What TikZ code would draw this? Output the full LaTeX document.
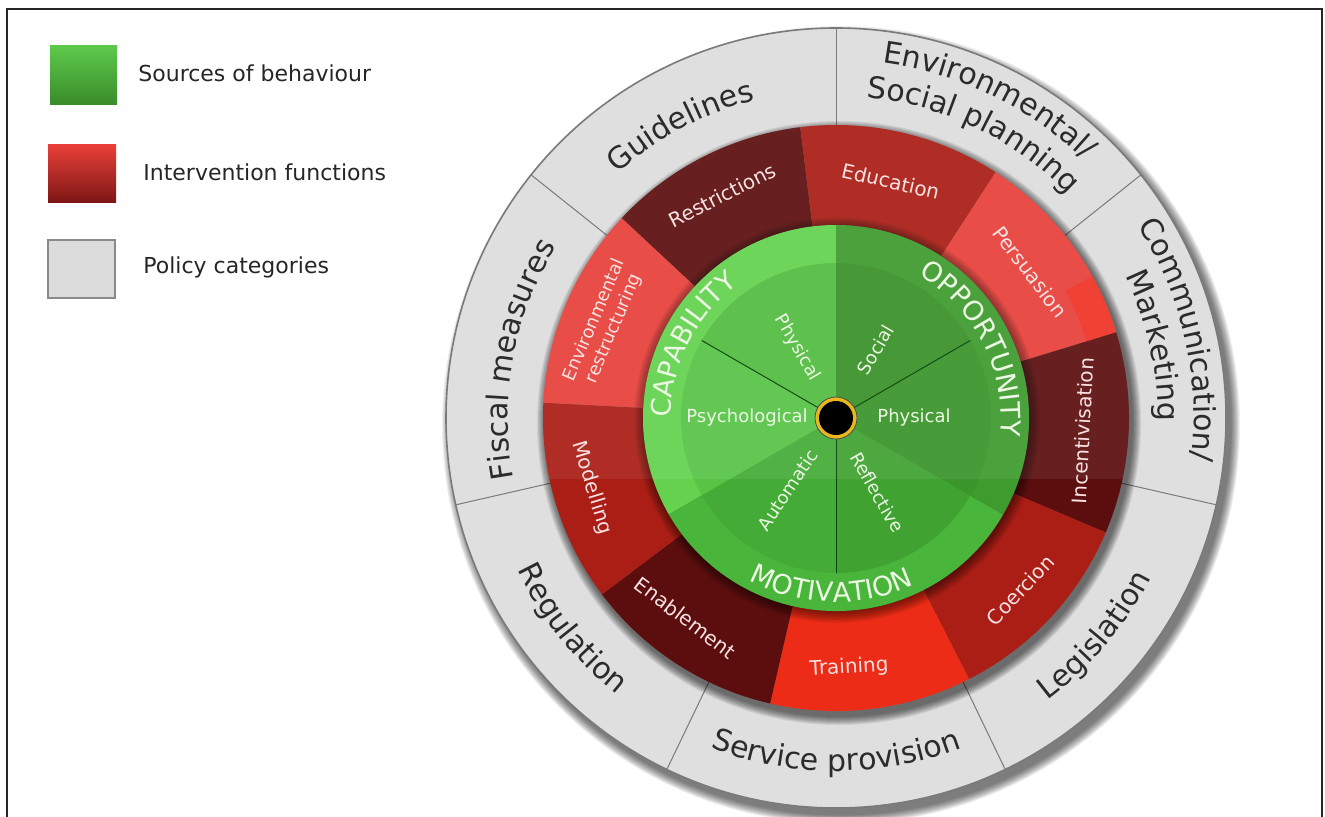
\documentclass[tikz,border=0pt]{standalone}
\usepackage{fontspec}
\setmainfont{DejaVu Sans}
\usetikzlibrary{decorations.text}
\definecolor{poltext}{HTML}{2B2B2B}
\definecolor{polfill}{HTML}{DFDFDF}
\definecolor{polline}{HTML}{7A7A7A}
\definecolor{redtext}{HTML}{F8E2E2}
\definecolor{greentext}{HTML}{ECF7E4}
\definecolor{rdark}{HTML}{5C0E0E}
\definecolor{rmid}{HTML}{AA1E16}
\definecolor{rbright}{HTML}{E8403A}
\definecolor{rstrip}{HTML}{EE3426}
\definecolor{rtrain}{HTML}{EC2C16}
\definecolor{capring}{HTML}{64D24F}
\definecolor{oppring}{HTML}{3E9C2E}
\definecolor{motring}{HTML}{49B63B}
\definecolor{capphys}{HTML}{52BC40}
\definecolor{cappsy}{HTML}{58C446}
\definecolor{motauto}{HTML}{44AC36}
\definecolor{motrefl}{HTML}{3FA231}
\definecolor{oppphys}{HTML}{3A952A}
\definecolor{oppsoc}{HTML}{3A9229}
\definecolor{gold}{HTML}{E8B81E}
\definecolor{leggtop}{HTML}{5DC94B}
\definecolor{leggbot}{HTML}{3A8C2A}
\definecolor{legrtop}{HTML}{EA4038}
\definecolor{legrbot}{HTML}{7E1615}
\definecolor{leggrey}{HTML}{DCDCDC}
\definecolor{leggreyline}{HTML}{8A8A8A}
\newcommand\annsec[5]{\fill[#1] (#2:#4) arc[start angle=#2,end angle=#3,radius=#4] -- (#3:#5) arc[start angle=#3,end angle=#2,radius=#5] -- cycle;}
\newcommand\piesec[4]{\fill[#1] (0,0) -- (#2:#4) arc[start angle=#2,end angle=#3,radius=#4] -- cycle;}
\newcommand\polfont{\color{poltext}\fontsize{15}{18}\selectfont}
\newcommand\comfont{\color{greentext}\fontsize{13.5}{16}\selectfont}
\begin{document}
\begin{tikzpicture}[x=0.5pt,y=0.5pt,
  legtxt/.style={anchor=west,inner sep=0pt,text=black!85,font=\fontsize{11}{13}\selectfont},
  redtxt/.style={inner sep=0pt,text=redtext,font=\fontsize{10}{12}\selectfont},
  grntxt/.style={inner sep=0pt,text=greentext,font=\fontsize{9}{11}\selectfont},
  arctext/.style={decorate,decoration={text along path,text align=center,text={#1}}}]
\useasboundingbox (0,0) rectangle (1325,816);
\fill[white] (0,0) rectangle (1325,816);
\draw[line width=1pt,black!85] (7,-10) -- (7,807) -- (1322,807) -- (1322,-10);
% legend
\shade[top color=leggtop,bottom color=leggbot] (50,770) rectangle (117,712);
\shade[top color=legrtop,bottom color=legrbot] (48,672) rectangle (116,614);
\fill[leggrey] (48,576) rectangle (115,518);
\draw[leggreyline,line width=0.6pt] (48,576) rectangle (115,518);
\node[legtxt] (lsrc) at (138,743) {Sources of behaviour};
\node[legtxt] (lint) at (143,644) {Intervention functions};
\node[legtxt] (lpol) at (143,549) {Policy categories};
% wheel
\begin{scope}[shift={(836,398)}]
  % outer shadow
  \foreach \i in {0,...,11} \fill[black,opacity=0.055] (5,-7) circle ({399-\i*0.8});
  % policy ring
  \fill[polfill] (0,0) circle (390);
  \draw[polline,line width=0.8pt] (0,0) circle (390);
  \foreach \a in {90,141.43,192.86,244.29,295.71,347.14,38.57}
    \draw[polline,line width=0.5pt] (\a:291) -- (\a:390);
  % red ring shadow
  \foreach \i in {0,...,8} \fill[black,opacity=0.075] (3,-5) circle ({302-\i});
  % intervention functions
  \annsec{rdark}{97}{137}{193}{293}
  \annsec{rmid}{57}{97}{193}{293}
  \annsec{rbright}{17}{57}{193}{293}
  \annsec{rstrip}{17}{29}{262}{293}
  \annsec{rdark}{-23}{17}{193}{293}
  \annsec{rmid}{-63}{-23}{193}{293}
  \annsec{rtrain}{-103}{-63}{193}{293}
  \annsec{rdark}{-143}{-103}{193}{293}
  \annsec{rmid}{177}{217}{193}{293}
  \annsec{rbright}{137}{177}{193}{293}
  % inner shadow
  \foreach \i in {0,...,7} \fill[black,opacity=0.065] (1,-2) circle ({193+\i*1.4});
  % green sources
  \piesec{capring}{90}{210}{193}
  \piesec{motring}{210}{330}{193}
  \piesec{oppring}{-30}{90}{193}
  \piesec{capphys}{90}{150}{155}
  \piesec{cappsy}{150}{210}{155}
  \piesec{motauto}{210}{270}{155}
  \piesec{motrefl}{270}{330}{155}
  \piesec{oppphys}{-30}{30}{155}
  \piesec{oppsoc}{30}{90}{155}
  \foreach \a in {30,150,270} \draw[green!25!black,line width=0.5pt] (0,0) -- (\a:155);
  % lighting band
  \begin{scope}
    \clip (0,0) circle (293);
    \fill[white,opacity=0.07] (-300,-61) rectangle (300,300);
  \end{scope}
  % centre
  \fill[gold] (0,0) circle (21);
  \draw[black!70,line width=0.4pt] (0,0) circle (21);
  \fill[black] (0,0) circle (17);
  % policy texts
  \path[arctext={|\polfont|Guidelines}] (143.5:328) arc[start angle=143.5,end angle=92.5,radius=328];
  \path[arctext={|\polfont|Fiscal measures}] (195:328) arc[start angle=195,end angle=144,radius=328];
  \path[arctext={|\polfont|Regulation}] (192.86:353) arc[start angle=192.86,end angle=244.29,radius=353];
  \path[arctext={|\polfont|Service provision}] (244.29:353) arc[start angle=244.29,end angle=295.71,radius=353];
  \path[arctext={|\polfont|Legislation}] (294.5:353) arc[start angle=294.5,end angle=345.5,radius=353];
  \path[arctext={|\polfont|Communication/}] (38.57:358) arc[start angle=38.57,end angle=-12.86,radius=358];
  \path[arctext={|\polfont|Marketing}] (38.57:322) arc[start angle=38.57,end angle=-12.86,radius=322];
  \path[arctext={|\polfont|Environmental/}] (90:358) arc[start angle=90,end angle=38.57,radius=358];
  \path[arctext={|\polfont|Social planning}] (90:322) arc[start angle=90,end angle=38.57,radius=322];
  % intervention texts
  \node[redtxt,rotate=27] (restr) at (117:250) {Restrictions};
  \node[redtxt,rotate=-13] (educ) at (77:243) {Education};
  \node[redtxt,rotate=-53] (pers) at (37:243) {Persuasion};
  \node[redtxt,rotate=87] (incent) at (-3:247) {Incentivisation};
  \node[redtxt,rotate=47] (coerc) at (-43:252) {Coercion};
  \node[redtxt,rotate=3] (train) at (-87:250) {Training};
  \node[redtxt,rotate=-37] (enabl) at (-127:250) {Enablement};
  \node[redtxt,rotate=-73] (model) at (196:254) {Modelling};
  \node[redtxt,rotate=67,align=center,font=\fontsize{9}{10.5}\selectfont] (envr) at (158:250) {Environmental\\restructuring};
  % sources texts
  \path[arctext={|\comfont|CAPABILITY}] (213:165) arc[start angle=213,end angle=93,radius=165];
  \path[arctext={|\comfont|OPPORTUNITY}] (87:165) arc[start angle=87,end angle=-33,radius=165];
  \path[arctext={|\comfont|MOTIVATION}] (208.5:184) arc[start angle=208.5,end angle=328.5,radius=184];
  \node[grntxt,rotate=-60] (cphys) at (119:80) {Physical};
  \node[grntxt] (cpsy) at (180:89) {Psychological};
  \node[grntxt,rotate=56] (mauto) at (236:87) {Automatic};
  \node[grntxt,rotate=-60] (mrefl) at (299:85) {Reflective};
  \node[grntxt] (ophys) at (0:78) {Physical};
  \node[grntxt,rotate=60] (osoc) at (60:79) {Social};
\end{scope}
\end{tikzpicture}
\end{document}
